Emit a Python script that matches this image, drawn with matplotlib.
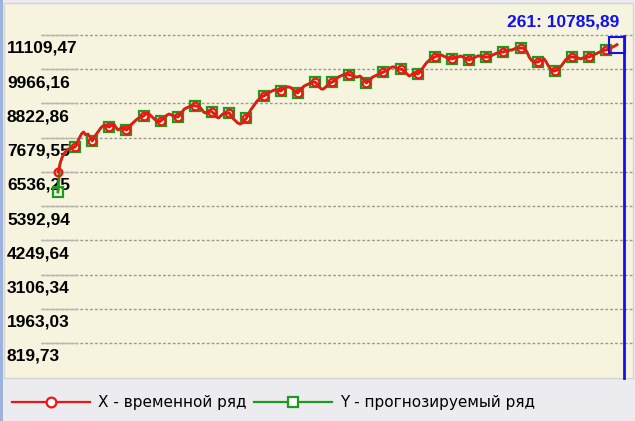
import numpy as np
import matplotlib
matplotlib.use("Agg")
import matplotlib.pyplot as plt
import matplotlib.transforms as mtransforms
from matplotlib.lines import Line2D
from matplotlib.patches import Rectangle

# time series X (one value per step 0..261)
x_values = [
    6536, 6820, 7030, 7160, 7250, 7300, 7330, 7350, 7367,
    7501, 7668, 7802, 7868, 7768, 7802, 7701, 7568,
    7701, 7802, 7902, 8002, 8069, 8102, 8069, 8036,
    8102, 8136, 8036, 7935, 7969, 8036, 7969, 7935,
    8002, 8102, 8169, 8236, 8303, 8336, 8370, 8403,
    8470, 8503, 8437, 8370, 8303, 8236, 8203, 8236,
    8303, 8370, 8437, 8470, 8437, 8403, 8370, 8370,
    8437, 8537, 8637, 8670, 8704, 8737, 8771, 8737,
    8737, 8704, 8637, 8537, 8503, 8570, 8570, 8537,
    8470, 8370, 8336, 8403, 8470, 8503, 8503, 8503,
    8403, 8303, 8236, 8169, 8136, 8169, 8236, 8336,
    8470, 8604, 8704, 8804, 8904, 8971, 9038, 9071,
    9105, 9171, 9205, 9238, 9272, 9272, 9272, 9238,
    9305, 9338, 9372, 9372, 9338, 9272, 9205, 9172,
    9272, 9338, 9405, 9439, 9472, 9506, 9539, 9539,
    9472, 9372, 9305, 9305, 9372, 9439, 9506, 9539,
    9572, 9639, 9706, 9739, 9773, 9806, 9806, 9773,
    9773, 9739, 9706, 9706, 9739, 9673, 9606, 9506,
    9572, 9639, 9706, 9739, 9773, 9806, 9840, 9873,
    9907, 9940, 10007, 10040, 10040, 10007, 9973, 9974,
    9940, 9873, 9806, 9739, 9773, 9840, 9840, 9806,
    9873, 9973, 10074, 10174, 10241, 10308, 10341, 10374,
    10408, 10441, 10441, 10408, 10374, 10341, 10341, 10308,
    10341, 10374, 10374, 10408, 10374, 10341, 10308, 10274,
    10308, 10341, 10374, 10408, 10408, 10408, 10374, 10374,
    10374, 10408, 10441, 10475, 10508, 10508, 10541, 10541,
    10575, 10575, 10608, 10608, 10642, 10675, 10675, 10675,
    10675, 10642, 10541, 10374, 10274, 10207, 10207, 10207,
    10241, 10274, 10308, 10207, 10074, 9973, 9907, 9907,
    9940, 10007, 10074, 10174, 10274, 10341, 10374, 10374,
    10374, 10341, 10341, 10308, 10341, 10341, 10374, 10374,
    10408, 10441, 10475, 10508, 10541, 10575, 10608, 10608,
    10642, 10675, 10709, 10742, 10785.89,
]
# forecast Y: starts below, then lies on top of X
y_values = [5864] + x_values[1:]

ytick_labels = ["819,73", "1963,03", "3106,34", "4249,64", "5392,94",
                "6536,25", "7679,55", "8822,86", "9966,16", "11109,47"]
ytick_values = [float(s.replace(",", ".")) for s in ytick_labels]

x_label = "X - временной ряд"
y_label = "Y - прогнозируемый ряд"

cream = "#F6F4DE"
red = "#F01414"
green = "#1E9A1E"
blue = "#1010F0"

W, H = 635, 421
fig = plt.figure(figsize=(W / 100, H / 100), dpi=100, facecolor="#EBEBF0")
fig.patches.append(Rectangle((4 / W, 43 / H), 629 / W, 375 / H, transform=fig.transFigure,
                             facecolor=cream, edgecolor="#D4D4D4", lw=1, zorder=-2))
fig.patches.append(Rectangle((0, 0), 3 / W, 1, transform=fig.transFigure,
                             facecolor="#9DB3DD", edgecolor="none", zorder=-2))

ax = fig.add_axes([41 / W, 43 / H, 592 / W, 375 / H])
ax.patch.set_visible(False)
for s in ax.spines.values():
    s.set_visible(False)

idx = np.arange(len(x_values))
ax.plot(idx, y_values, color=green, lw=2, marker="s", markevery=8, ms=7.5,
        mfc="none", mec=green, mew=1.6, zorder=3)
ax.plot(idx, x_values, color=red, lw=1.8, marker="o", markevery=8, ms=5.5,
        mfc="none", mec=red, mew=1.6, zorder=4)

ax.set_xlim(-7.9, 268.5)
ax.set_ylim(-350, 12178)

ax.set_yticks(ytick_values)
ax.set_yticklabels(ytick_labels, fontfamily="Liberation Sans", fontweight="bold",
                   fontsize=12.5, ha="left")
ax.tick_params(axis="y", direction="in", length=26.6, width=1, color="#B8B8B0", pad=24.5)
ax.set_xticks([])
down = mtransforms.ScaledTranslation(0, -0.12, fig.dpi_scale_trans)
for lab in ax.get_yticklabels():
    lab.set_transform(lab.get_transform() + down)
ax.grid(axis="y", color="#9A9A90", lw=1, ls=(0, (2, 1.5)))

# cursor on the last point
n = len(x_values) - 1
last = x_values[-1]
px_per_val = 375 / (12178 + 350)
ax.plot([n], [last], marker="s", ms=12, mfc="none", mec=blue, mew=1.5, zorder=5)
half = 8.5 / px_per_val
ax.plot([n + 3.4, n + 3.4], [last + half, -350], color=blue, lw=2, zorder=5, clip_on=False)
ax.annotate(f"{n}: {last:.2f}".replace(".", ","), xy=(n, last), xytext=(1.5, 16.5),
            textcoords="offset points", ha="right", va="center", color=blue,
            fontfamily="Liberation Sans", fontweight="bold", fontsize=12.5)

handles = [
    Line2D([], [], color=red, lw=1.6, marker="o", ms=7, mfc="white", mec=red, mew=1.6),
    Line2D([], [], color=green, lw=1.6, marker="s", ms=7, mfc="white", mec=green, mew=1.6),
]
fig.legend(handles, [x_label, y_label], loc="center left", bbox_to_anchor=(12 / W, 18 / H),
           ncol=2, frameon=False, handlelength=5.1, handletextpad=0.5,
           columnspacing=0.55, borderpad=0, borderaxespad=0,
           prop={"family": "DejaVu Sans", "size": 11})

fig.savefig("out.png", dpi=100, facecolor=fig.get_facecolor())
